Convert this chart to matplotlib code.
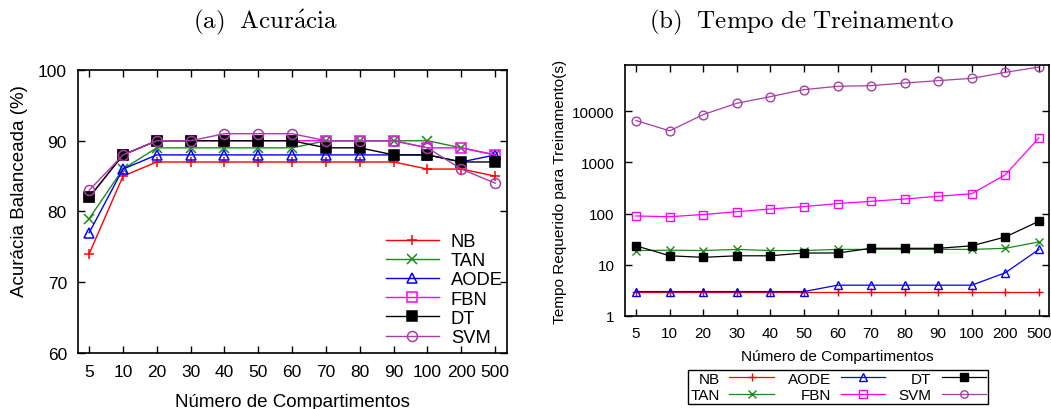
import matplotlib
matplotlib.use("Agg")
import matplotlib.pyplot as plt
import numpy as np

plt.rcParams['font.family'] = ['Liberation Sans', 'DejaVu Sans']
plt.rcParams['mathtext.fontset'] = 'cm'

categories = ["5", "10", "20", "30", "40", "50", "60", "70", "80", "90", "100", "200", "500"]
series_names = ["NB", "TAN", "AODE", "FBN", "DT", "SVM"]

# (a) Balanced accuracy (%)
acc_nb   = [74, 85, 87, 87, 87, 87, 87, 87, 87, 87, 86, 86, 85]
acc_tan  = [79, 86, 89, 89, 89, 89, 89, 90, 90, 90, 90, 89, 88]
acc_aode = [77, 86, 88, 88, 88, 88, 88, 88, 88, 88, 88, 87, 88]
acc_fbn  = [82, 88, 90, 90, 90, 90, 90, 90, 90, 90, 89, 89, 88]
acc_dt   = [82, 88, 90, 90, 90, 90, 90, 89, 89, 88, 88, 87, 87]
acc_svm  = [83, 88, 90, 90, 91, 91, 91, 90, 90, 90, 89, 86, 84]

# (b) Training time (s)
time_nb   = [3, 3, 3, 3, 3, 3, 3, 3, 3, 3, 3, 3, 3]
time_tan  = [19, 19.3, 19, 20, 19, 19, 20, 20, 20, 20, 20, 21, 28]
time_aode = [3, 3, 3, 3, 3, 3, 4, 4, 4, 4, 4, 7, 20]
time_fbn  = [90, 87, 96, 109, 123, 137, 157, 174, 193, 218, 245, 575, 3020]
time_dt   = [23.5, 15, 14, 15, 15, 17, 17, 21, 21, 21, 23.5, 35, 71]
time_svm  = [6580, 4140, 8600, 14300, 19300, 26400, 30700, 31600, 35600, 39600, 43900, 57500, 73000]

colors = {"NB": "#ff0000", "TAN": "#1a8a1a", "AODE": "#0000ff",
          "FBN": "#ff00ff", "DT": "#000000", "SVM": "#a83ca8"}
markers = {"NB": dict(marker='+', mfc='none'), "TAN": dict(marker='x', mfc='none'),
           "AODE": dict(marker='^', mfc='none'), "FBN": dict(marker='s', mfc='none'),
           "DT": dict(marker='s'), "SVM": dict(marker='o', mfc='none')}

acc = [acc_nb, acc_tan, acc_aode, acc_fbn, acc_dt, acc_svm]
tim = [time_nb, time_tan, time_aode, time_fbn, time_dt, time_svm]

fig = plt.figure(figsize=(10.51, 4.10), dpi=100)
W, H = 1051, 410
def rect(l, t, r, b):
    return [l / W, 1 - b / H, (r - l) / W, (b - t) / H]

L1 = (78, 71, 507, 354)
L2 = (625, 66, 1049, 317)
ax1 = fig.add_axes(rect(*L1))
ax2 = fig.add_axes(rect(*L2))

def axcoord(L, px, py):
    l, t, r, b = L
    return (px - l) / (r - l), (b - py) / (b - t)

x = np.arange(len(categories))

for name, vals in zip(series_names, acc):
    c = colors[name]
    ax1.plot(x, vals, color=c, lw=1.0, ms=7.2, mec=c, mew=1.1, label=name, **markers[name])
for name, vals in zip(series_names, tim):
    c = colors[name]
    ax2.plot(x, vals, color=c, lw=0.9, ms=6.3, mec=c, mew=1.0, label=name, **markers[name])

# Left axes
ax1.set_xlim(-0.33, 12.35)
ax1.set_ylim(60, 100)
ax1.set_yticks([60, 70, 80, 90, 100])
ax1.set_xticks(x)
ax1.set_xticklabels(categories)
ax1.tick_params(direction='in', length=5.3, width=1, top=True, right=True,
                labelsize=12.5, pad=8)
ax1.set_xlabel("Número de Compartimentos", fontsize=13.5)
ax1.xaxis.label.set_va('center')
ax1.xaxis.set_label_coords(*axcoord(L1, 292, 403))
ax1.set_ylabel("Acurácia Balanceada (%)", fontsize=13.5)
ax1.yaxis.label.set_va('center')
ax1.yaxis.set_label_coords(*axcoord(L1, 20, 191))
for s in ax1.spines.values():
    s.set_linewidth(1.2)
leg1 = ax1.legend(loc='lower right', frameon=False, fontsize=13.2, handlelength=2.9,
                  handletextpad=0.65, labelspacing=0.12, borderpad=0, borderaxespad=0,
                  bbox_to_anchor=axcoord(L1, 503, 347))

# Right axes
ax2.set_yscale('log')
ax2.set_xlim(-0.33, 12.3)
ax2.set_ylim(1, 80000)
ax2.set_yticks([1, 10, 100, 1000, 10000])
ax2.set_yticklabels(["1", "10", "100", "1000", "10000"])
ax2.yaxis.set_minor_locator(matplotlib.ticker.NullLocator())
ax2.set_xticks(x)
ax2.set_xticklabels(categories)
ax2.tick_params(direction='in', length=5.3, width=1, top=True, right=True,
                labelsize=11, pad=7.5)
ax2.set_xlabel("Número de Compartimentos", fontsize=11.1)
ax2.xaxis.label.set_va('center')
ax2.xaxis.set_label_coords(*axcoord(L2, 837, 357))
ax2.set_ylabel("Tempo Requerido para Treinamento(s)", fontsize=11.1)
ax2.yaxis.label.set_va('center')
ax2.yaxis.set_label_coords(*axcoord(L2, 560, 192))
for s in ax2.spines.values():
    s.set_linewidth(1.2)
h, l = ax2.get_legend_handles_labels()
leg2 = fig.legend(h, l, loc='upper center', ncol=3, markerfirst=False,
                  bbox_to_anchor=(838 / W, 1 - 371 / H), fontsize=11,
                  fancybox=False, edgecolor='black', framealpha=1,
                  handlelength=2.9, handletextpad=0.65, columnspacing=0.9,
                  labelspacing=0.16, borderpad=0.12, borderaxespad=0,
                  markerscale=0.85)
leg2.get_frame().set_linewidth(1.0)

fig.text(265 / W, 1 - 22 / H, r'$\mathrm{(a)\ \ Acur\acute{a}cia}$', ha='center', va='center', fontsize=18)
fig.text(802 / W, 1 - 22 / H, r'$\mathrm{(b)\ \ Tempo\ de\ Treinamento}$', ha='center', va='center', fontsize=18)

fig.savefig("out.png", dpi=100)
